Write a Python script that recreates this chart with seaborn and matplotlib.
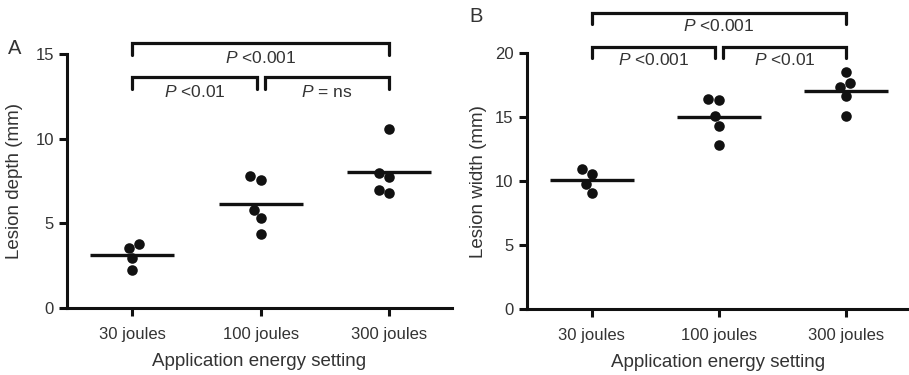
import matplotlib
matplotlib.use("Agg")
import matplotlib.pyplot as plt
import numpy as np
import pandas as pd
import seaborn as sns

# ---------------- data ----------------
categories = ["30 joules", "100 joules", "300 joules"]

depth_30 = [3.54, 3.77, 2.95, 2.26]
depth_100 = [7.57, 7.80, 5.80, 5.29, 4.38]
depth_300 = [10.58, 8.00, 7.76, 6.98, 6.78]

width_30 = [10.96, 10.57, 9.77, 9.06]
width_100 = [15.10, 16.35, 16.43, 14.32, 12.81]
width_300 = [18.57, 17.34, 17.66, 16.67, 15.13]

depth_ticks = [0, 5, 10, 15]
width_ticks = [0, 5, 10, 15, 20]

# comparisons: (group a, group b, p-text)
depth_tests = [("30 joules", "300 joules", "<0.001"),
               ("30 joules", "100 joules", "<0.01"),
               ("100 joules", "300 joules", "= ns")]
width_tests = [("30 joules", "300 joules", "<0.001"),
               ("30 joules", "100 joules", "<0.001"),
               ("100 joules", "300 joules", "<0.01")]

# ---------------- style ----------------
sns.set_theme(style="ticks")
plt.rcParams["font.family"] = ["Liberation Sans", "DejaVu Sans"]
plt.rcParams["mathtext.fontset"] = "custom"
plt.rcParams["mathtext.rm"] = "Liberation Sans"
plt.rcParams["mathtext.it"] = "Liberation Sans:italic"

TXT = "#333333"
INK = "#111111"


def frame(groups):
    rows = []
    for cat, vals in zip(categories, groups):
        for v in vals:
            rows.append({"energy": cat, "value": v})
    return pd.DataFrame(rows)


def panel(ax, df, ticks, tests, bar_levels, drop, ylabel, letter, letter_xy, ylab_x):
    sns.swarmplot(data=df, x="energy", y="value", order=categories, color=INK,
                  size=7.6, linewidth=0, ax=ax, zorder=3)
    sns.pointplot(data=df, x="energy", y="value", order=categories, estimator="mean",
                  errorbar=None, markers="_", markersize=60, markeredgewidth=2.4,
                  linestyle="none", color=INK, ax=ax, zorder=2)
    ax.set_xlim(-0.51, 2.49)
    ax.set_ylim(ticks[0], ticks[-1])
    ax.set_yticks(ticks)
    ax.set_yticklabels([str(t) for t in ticks])
    sns.despine(ax=ax)
    for s in ("left", "bottom"):
        ax.spines[s].set_linewidth(2.2)
        ax.spines[s].set_color(INK)
    ax.tick_params(axis="both", width=2.2, length=5.5, color=INK, labelsize=12,
                   labelcolor=TXT, pad=4)
    ax.tick_params(axis="x", pad=8)
    ax.set_xlabel("Application energy setting", fontsize=13.5, color=TXT, labelpad=8)
    ax.set_ylabel(ylabel, fontsize=13.5, color=TXT)
    ax.yaxis.set_label_coords(ylab_x, 0.5)

    pos = {c: i for i, c in enumerate(categories)}
    for (a, b, ptxt), ybar in zip(tests, bar_levels):
        x1, x2 = pos[a], pos[b]
        if x2 - x1 == 1:
            x1 = x1 + (0.03 if x1 > 0 else 0)
            x2 = x2 - (0.03 if x2 < 2 else 0)
        ax.plot([x1, x1, x2, x2], [ybar - drop, ybar, ybar, ybar - drop],
                color=INK, lw=2.3, clip_on=False, solid_joinstyle="miter")
        ax.text((x1 + x2) / 2, ybar - drop * 1.25, r"$P$ " + ptxt, ha="center",
                va="center", fontsize=12.5, color=TXT, clip_on=False)
    ax.figure.text(letter_xy[0], letter_xy[1], letter, fontsize=14.5, color=TXT,
                   ha="center", va="center")


fig = plt.figure(figsize=(9.09, 3.75), dpi=100)
axA = fig.add_axes([0.0737, 0.1787, 0.4235, 0.6773])
axB = fig.add_axes([0.5794, 0.1752, 0.4203, 0.6827])

panel(axA, frame([depth_30, depth_100, depth_300]), depth_ticks, depth_tests,
      [15.63, 13.62, 13.62], 0.68, "Lesion depth (mm)", "A",
      (14.5 / 909, 1 - 48.5 / 375), -0.115)
panel(axB, frame([width_30, width_100, width_300]), width_ticks, width_tests,
      [23.17, 20.52, 20.52], 0.86, "Lesion width (mm)", "B",
      (476.5 / 909, 1 - 16.5 / 375), -0.104)

fig.savefig("out.png", dpi=100, facecolor="white")
